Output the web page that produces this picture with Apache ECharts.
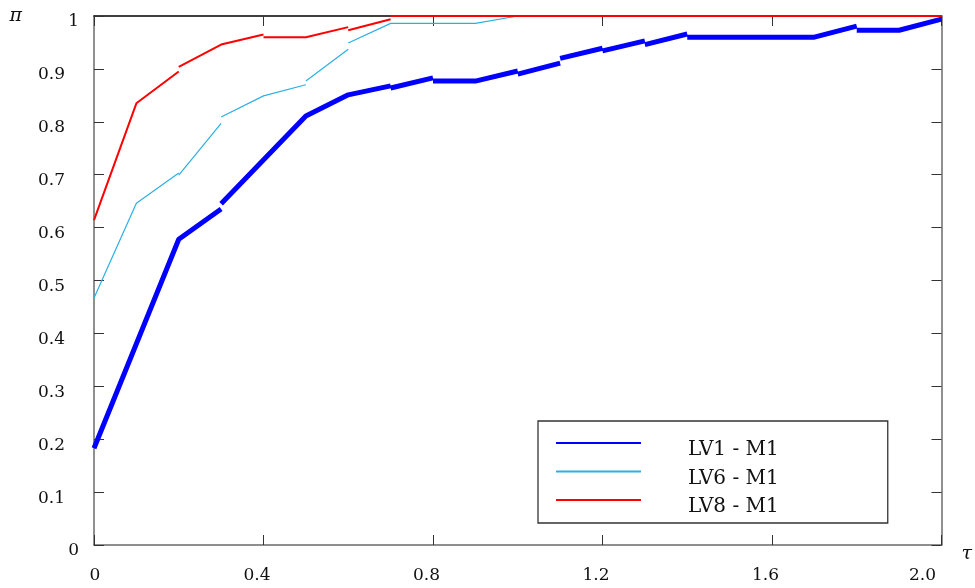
<!DOCTYPE html>
<html>
<head>
<meta charset="utf-8">
<script src="https://cdn.jsdelivr.net/npm/echarts@6/dist/echarts.min.js"></script>
<style>
html,body{margin:0;padding:0;background:#fff;}
#chart{width:975px;height:588px;}
</style>
</head>
<body>
<div id="chart"></div>
<script>
// ---- data ----
const xTickLabels = ['0', '0.4', '0.8', '1.2', '1.6', '2.0'];
const yTickLabels = ['0', '0.1', '0.2', '0.3', '0.4', '0.5', '0.6', '0.7', '0.8', '0.9', '1'];
const seriesNames = ['LV1 - M1', 'LV6 - M1', 'LV8 - M1'];
const xAxisName = 'τ';
const yAxisName = 'π';

// [tau, pi] points; null marks a break between drawn pieces
const lv1 = [[0, 0.183], [0.2, 0.578], [0.3, 0.635], null,
  [0.3, 0.645], [0.5, 0.811], [0.6, 0.851], [0.7, 0.868], null,
  [0.7, 0.864], [0.8, 0.883], null,
  [0.8, 0.877], [0.9, 0.877], [1.0, 0.896], null,
  [1.0, 0.890], [1.1, 0.911], null,
  [1.1, 0.920], [1.2, 0.939], null,
  [1.2, 0.934], [1.3, 0.953], null,
  [1.3, 0.946], [1.4, 0.966], null,
  [1.4, 0.960], [1.7, 0.960], [1.8, 0.981], null,
  [1.8, 0.973], [1.9, 0.973], [2.0, 0.994]];

const lv6 = [[0, 0.467], [0.1, 0.646], [0.2, 0.703], null,
  [0.2, 0.699], [0.3, 0.797], null,
  [0.3, 0.809], [0.4, 0.849], [0.5, 0.870], null,
  [0.5, 0.877], [0.6, 0.937], null,
  [0.6, 0.949], [0.7, 0.986], [0.9, 0.986], [1.0, 1.0], [2.0, 1.0]];

const lv8 = [[0, 0.614], [0.1, 0.835], [0.2, 0.895], null,
  [0.2, 0.904], [0.3, 0.946], [0.4, 0.965], null,
  [0.4, 0.960], [0.5, 0.960], [0.6, 0.979], null,
  [0.6, 0.973], [0.7, 0.994], null,
  [0.7, 1.0], [2.0, 1.0]];

// ---- styling ----
const FONT = 'DejaVu Serif';
const colors = ['#0000ff', '#2bb0e6', '#ff0000'];
const widths = [5, 1.2, 2];
const AX_GRAY = '#6b6b6b';

function toData(arr) { return arr.map(p => p === null ? ['-', '-'] : p); }

const chart = echarts.init(document.getElementById('chart'), null, {renderer: 'canvas'});

const tickStyle = {show: true, inside: true, length: 10, lineStyle: {color: '#333', width: 1}};

const option = {
  animation: false,
  backgroundColor: '#fff',
  grid: {left: 94, right: 33, top: 16, bottom: 43, containLabel: false},
  legend: {
    orient: 'vertical',
    left: 538, top: 421,
    padding: [5, 109, 6, 17],
    itemWidth: 85, itemHeight: 20, itemGap: -5.5,
    borderColor: '#333', borderWidth: 1.3,
    backgroundColor: '#fff',
    data: seriesNames,
    itemStyle: {opacity: 0},
    formatter: name => '{t|' + name + '}',
    textStyle: {
      fontFamily: FONT, fontSize: 20, color: '#111',
      rich: {t: {fontFamily: FONT, fontSize: 20, color: '#111', lineHeight: 20, padding: [14, 0, 0, 42]}}
    }
  },
  xAxis: [{
    type: 'value', min: 0, max: 2, interval: 0.4, position: 'bottom',
    name: xAxisName, nameLocation: 'end', nameGap: 20,
    nameTextStyle: {fontFamily: FONT, fontSize: 19, fontStyle: 'italic', color: '#111', verticalAlign: 'top', lineHeight: 18},
    axisLine: {show: true, onZero: false, lineStyle: {color: AX_GRAY, width: 1.5}},
    axisTick: tickStyle,
    splitLine: {show: false},
    axisLabel: {
      margin: 22, fontFamily: FONT, fontSize: 17, color: '#111',
      formatter: v => {
        const i = Math.round(v / 0.4);
        const t = xTickLabels[i];
        if (i === 0) return '{a|' + t + '}';
        if (i === xTickLabels.length - 1) return '{c|' + t + '}';
        return '{b|' + t + '}';
      },
      rich: {
        a: {fontFamily: FONT, fontSize: 17, color: '#111', padding: [0, 0, 0, 2]},
        b: {fontFamily: FONT, fontSize: 17, color: '#111', padding: [0, 13, 0, 0]},
        c: {fontFamily: FONT, fontSize: 17, color: '#111', padding: [0, 38, 0, 0]}
      }
    }
  }, {
    type: 'value', min: 0, max: 2, interval: 0.4, position: 'top',
    axisLine: {show: true, onZero: false, lineStyle: {color: '#000', width: 1.5}},
    axisTick: tickStyle,
    axisLabel: {show: false},
    splitLine: {show: false}
  }],
  yAxis: [{
    type: 'value', min: 0, max: 1, interval: 0.1, position: 'left',
    name: yAxisName, nameLocation: 'end', nameGap: -10,
    nameTextStyle: {fontFamily: FONT, fontSize: 19, fontStyle: 'italic', color: '#111', align: 'right', verticalAlign: 'bottom', padding: [0, 72, 0, 0]},
    axisLine: {show: true, onZero: false, lineStyle: {color: AX_GRAY, width: 1.5}},
    axisTick: tickStyle,
    splitLine: {show: false},
    axisLabel: {
      margin: 15, fontFamily: FONT, fontSize: 17, color: '#111',
      verticalAlign: 'top', lineHeight: 12,
      formatter: v => {
        const t = yTickLabels[Math.round(v * 10)];
        return t.length > 1 ? '{d|' + t + '}' : '{n|' + t + '}';
      },
      rich: {
        n: {fontFamily: FONT, fontSize: 17, color: '#111', lineHeight: 12, padding: [0, 0, 0, 0]},
        d: {fontFamily: FONT, fontSize: 17, color: '#111', lineHeight: 12, padding: [0, 14, 0, 0]}
      }
    }
  }, {
    type: 'value', min: 0, max: 1, interval: 0.1, position: 'right',
    axisLine: {show: true, onZero: false, lineStyle: {color: AX_GRAY, width: 1.5}},
    axisTick: tickStyle,
    axisLabel: {show: false},
    splitLine: {show: false}
  }],
  series: [lv1, lv6, lv8].map((d, i) => ({
    name: seriesNames[i],
    type: 'line',
    xAxisIndex: 0, yAxisIndex: 0,
    data: toData(d),
    symbol: 'none',
    showSymbol: false,
    connectNulls: false,
    clip: false,
    z: 2 + i,
    color: colors[i],
    lineStyle: {color: colors[i], width: widths[i]}
  }))
};
chart.setOption(option);
</script>
</body>
</html>
